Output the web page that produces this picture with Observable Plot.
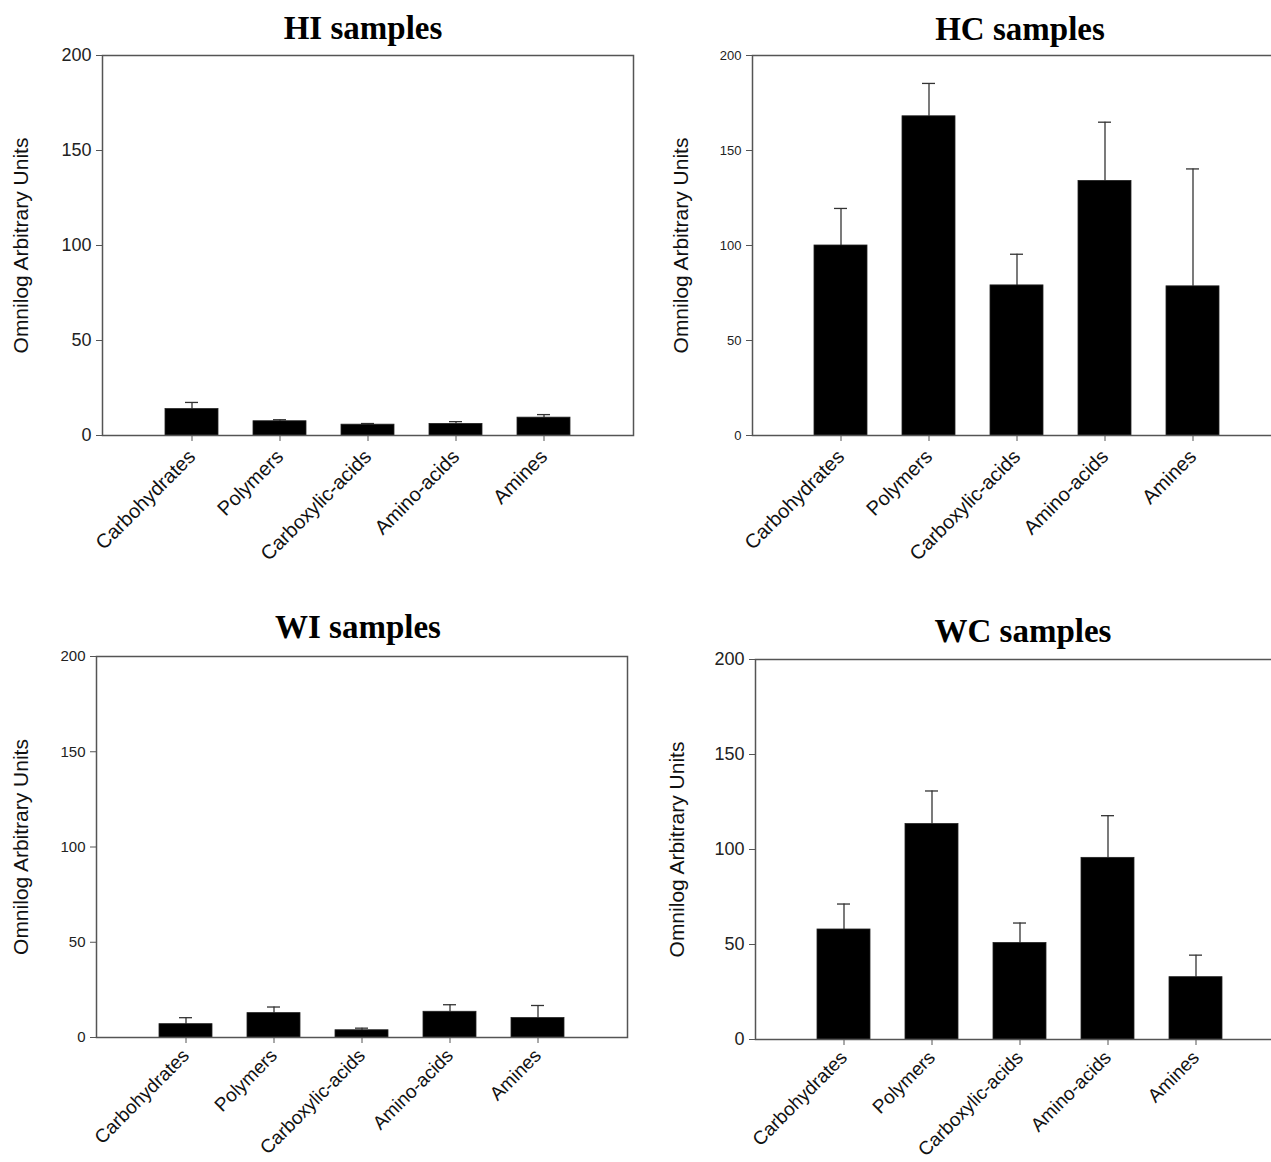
<!DOCTYPE html>
<html>
<head>
<meta charset="utf-8">
<script src="https://cdn.jsdelivr.net/npm/d3@7"></script>
<script src="https://cdn.jsdelivr.net/npm/@observablehq/plot@0.6"></script>
<style>
  body { margin: 0; background: #fff; overflow: hidden; }
  #root { position: relative; width: 1271px; height: 1162px; overflow: hidden; background: #fff; }
  .panel { position: absolute; }
  .panel svg { max-width: none !important; }
  .title { position: absolute; font-family: "Liberation Serif", "Times New Roman", serif; font-weight: bold;
           font-size: 33px; line-height: 33px; white-space: nowrap; transform: translateX(-50%); color: #000; }
</style>
</head>
<body>
<div id="root"></div>
<script>
// ---- data ----
const categories = ["Carbohydrates", "Polymers", "Carboxylic-acids", "Amino-acids", "Amines"];
const hiMeans  = [13.9, 7.5, 5.7, 6.1, 9.4];
const hiErrors = [3.5, 0.8, 0.6, 1.2, 1.6];
const hcMeans  = [100, 168, 79, 134, 78.5];
const hcErrors = [19.5, 17.3, 16.4, 30.9, 61.8];
const wiMeans  = [7.0, 12.8, 3.8, 13.5, 10.2];
const wiErrors = [3.4, 3.2, 1.1, 3.7, 6.6];
const wcMeans  = [57.9, 113.4, 50.8, 95.6, 32.8];
const wcErrors = [13.4, 17.4, 10.5, 22.2, 11.6];
const yTicks = [0, 50, 100, 150, 200];
const yTitle = "Omnilog Arbitrary Units";

// ---- layout ----
const panels = [
  {title: "HI samples", means: hiMeans, errors: hiErrors, svgLeft: 0, svgTop: 45, svgW: 640, svgH: 545,
   mL: 102, mR: 7, mT: 10, mB: 155, yFont: 18, xFont: 20, xPad: 12, yTitleDx: -81, titleX: 363, titleTop: 12},
  {title: "HC samples", means: hcMeans, errors: hcErrors, svgLeft: 636, svgTop: 45, svgW: 648, svgH: 545,
   mL: 116, mR: 4, mT: 10, mB: 155, yFont: 13, xFont: 20, xPad: 12, yTitleDx: -71, titleX: 1020, titleTop: 13},
  {title: "WI samples", means: wiMeans, errors: wiErrors, svgLeft: 0, svgTop: 650, svgW: 640, svgH: 512,
   mL: 96, mR: 13, mT: 6, mB: 125, yFont: 15, xFont: 19, xPad: 9, yTitleDx: -75, titleX: 358, titleTop: 611},
  {title: "WC samples", means: wcMeans, errors: wcErrors, svgLeft: 636, svgTop: 650, svgW: 651, svgH: 512,
   mL: 119, mR: 4, mT: 9, mB: 123, yFont: 18, xFont: 19, xPad: 9, yTitleDx: -78, titleX: 1023, titleTop: 615}
];

const root = document.getElementById("root");
const axisColor = "#555";
const errColor = "#333";

for (const p of panels) {
  const data = categories.map((c, i) => ({cat: c, mean: p.means[i], upper: p.means[i] + p.errors[i]}));
  const chart = Plot.plot({
    width: p.svgW,
    height: p.svgH,
    marginLeft: p.mL, marginRight: p.mR, marginTop: p.mT, marginBottom: p.mB,
    style: {fontFamily: "'Liberation Sans', Arial, sans-serif", color: "#000", background: "transparent", overflow: "visible", maxWidth: "none"},
    x: {type: "band", domain: categories, paddingInner: 0.4, paddingOuter: 0.7, align: 0.5},
    y: {domain: [0, 200]},
    marks: [
      Plot.ruleX(data, {x: "cat", y1: "mean", y2: "upper", stroke: errColor, strokeWidth: 1.3}),
      Plot.tickY(data, {x: "cat", y: "upper", stroke: errColor, strokeWidth: 1.3, insetLeft: 20, insetRight: 20}),
      Plot.barY(data, {x: "cat", y: "mean", fill: "#000", stroke: "#222", strokeWidth: 0.8}),
      Plot.frame({stroke: axisColor, strokeWidth: 1.5}),
      Plot.axisY({ticks: yTicks, tickSize: 6, tickPadding: 5, fontSize: p.yFont, label: null,
                  stroke: axisColor, fill: "#222", tickFormat: d => String(d)}),
      Plot.axisX({tickRotate: -45, tickSize: 6, tickPadding: p.xPad, fontSize: p.xFont, label: null,
                  stroke: axisColor, fill: "#111"}),
      Plot.text([yTitle], {frameAnchor: "left", dx: p.yTitleDx, rotate: -90, textAnchor: "middle",
                           fontSize: 21, fill: "#111"})
    ]
  });
  const holder = document.createElement("div");
  holder.className = "panel";
  holder.style.left = p.svgLeft + "px";
  holder.style.top = p.svgTop + "px";
  holder.style.width = p.svgW + "px";
  holder.appendChild(chart);
  root.appendChild(holder);

  const t = document.createElement("div");
  t.className = "title";
  t.textContent = p.title;
  t.style.left = p.titleX + "px";
  t.style.top = p.titleTop + "px";
  root.appendChild(t);
}
</script>
</body>
</html>
